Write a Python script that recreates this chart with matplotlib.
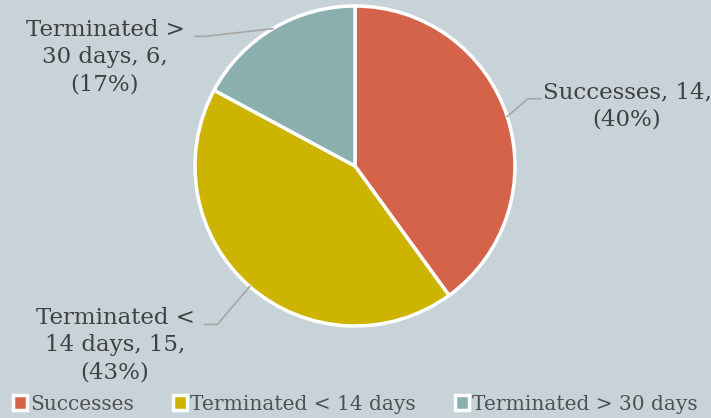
import matplotlib
matplotlib.use("Agg")
import matplotlib.pyplot as plt
import numpy as np

categories = ["Successes", "Terminated < 14 days", "Terminated > 30 days"]
values = [14, 15, 6]
percents = ["40%", "43%", "17%"]
label_texts = ["Successes, 14,\n(40%)", "Terminated <\n14 days, 15,\n(43%)", "Terminated >\n30 days, 6,\n(17%)"]
colors = ["#D4634A", "#CDB400", "#8BAEAE"]
bg = "#C8D3D9"

W, H = 711, 418
fig = plt.figure(figsize=(W / 100, H / 100), dpi=100, facecolor=bg)
cx, cy, r = 355, 166, 160
ax = fig.add_axes([(cx - r) / W, (H - cy - r) / H, 2 * r / W, 2 * r / H])
ax.set_facecolor(bg)
wedges, _ = ax.pie(values, colors=colors, startangle=90, counterclock=False,
                   wedgeprops=dict(edgecolor="white", linewidth=2.5), radius=1)
ax.set_xlim(-1, 1)
ax.set_ylim(-1, 1)
ax.axis("off")

font = "DejaVu Serif"
tcol = "#404040"
# label positions (data coords) and leader line knee points
label_pos = [(1.70, 0.375), (-1.50, -1.12), (-1.5625, 0.68)]
knees = [[(1.08, 0.42), (1.16, 0.42)], [(-0.86, -0.99), (-0.94, -0.99)], [(-0.94, 0.81), (-1.0, 0.81)]]
tot = sum(values)
start = 90.0
for i, v in enumerate(values):
    ang = start - 360 * v / tot / 2
    start -= 360 * v / tot
    ex, ey = np.cos(np.radians(ang)), np.sin(np.radians(ang))
    pts = [(ex, ey)] + knees[i]
    xs, ys = zip(*pts)
    ax.plot(xs, ys, color="#A6A6A6", lw=1.2, clip_on=False)
    ax.text(label_pos[i][0], label_pos[i][1], label_texts[i], ha="center", va="center",
            fontsize=16.5, family=font, color=tcol, linespacing=1.32, clip_on=False)

leg = fig.legend(wedges, categories, loc="center", bbox_to_anchor=(0.5, 1 - 404 / H), ncol=3,
                 frameon=False, prop=dict(family=font, size=14.5), labelcolor="#505050",
                 handlelength=0.7, handleheight=0.7, handletextpad=0.15, columnspacing=1.95,
                 borderpad=0, borderaxespad=0)
fig.savefig("out.png", dpi=100, facecolor=bg)
